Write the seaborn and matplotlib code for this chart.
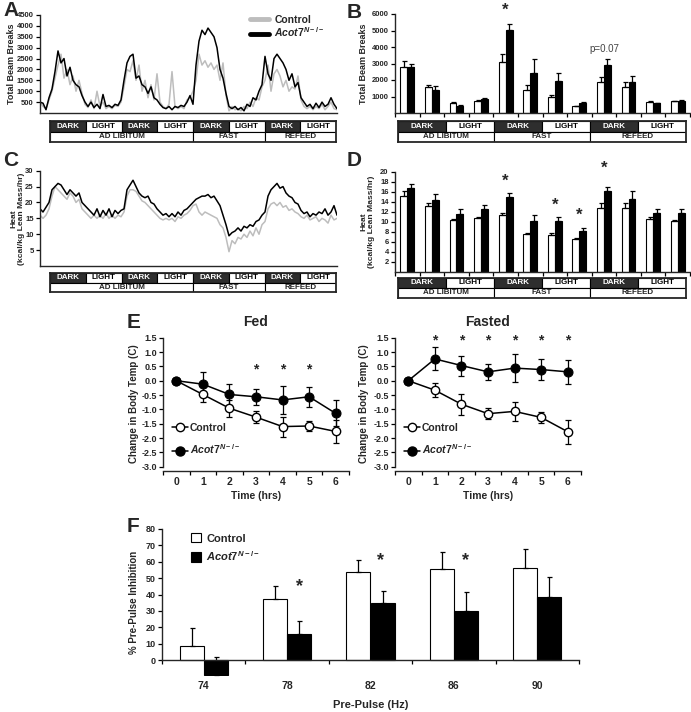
"""Multi-panel activity / heat / body temp / PPI figure (Acot7 KO vs control)."""

import matplotlib
matplotlib.use('Agg')
import matplotlib.pyplot as plt
from matplotlib.lines import Line2D
from matplotlib.patches import Patch
from matplotlib.ticker import FormatStrFormatter
import seaborn as sns
import numpy as np
import pandas as pd


sns.set_theme(style='ticks')
plt.rcParams['font.family'] = ['Liberation Sans', 'DejaVu Sans']
plt.rcParams['font.weight'] = 'bold'
plt.rcParams['axes.labelweight'] = 'bold'
plt.rcParams['axes.unicode_minus'] = False
plt.rcParams['mathtext.fontset'] = 'custom'
plt.rcParams['mathtext.it'] = 'Liberation Sans:italic:bold'
plt.rcParams['mathtext.rm'] = 'Liberation Sans:bold'
plt.rcParams['axes.linewidth'] = 1.0

KO = r'$\mathit{Acot7}^{\mathit{N-/-}}$'

# ---------------------------------------------------------------------------
# Data
# ---------------------------------------------------------------------------
hours = list(range(100))

beam_ctrl = [500, 300, 200, 600, 1000, 1600, 2200, 2700, 1600, 2000,
             1300, 1700, 1000, 1500, 900, 400, 250, 600, 200, 1000,
             300, 500, 200, 300, 200, 350, 300, 500, 1200, 2000,
             1900, 2400, 1500, 2200, 1000, 1500, 700, 1300, 600, 1800,
             500, 300, 200, 400, 1900, 300, 200, 300, 200, 600,
             700, 1000, 1500, 2700, 2200, 2400, 2100, 2300, 2000, 2200,
             1500, 2300, 800, 100, 300, 150, 200, 100, 300, 200,
             500, 300, 700, 600, 1200, 1500, 2200, 1000, 1800, 2000,
             1700, 1200, 1500, 1000, 1200, 1100, 1700, 600, 300, 200,
             300, 150, 300, 200, 400, 150, 300, 500, 200, 150]
beam_ko = [500, 450, 150, 700, 1100, 1900, 2850, 2300, 2500, 1700,
           2100, 1500, 1300, 1200, 800, 500, 300, 500, 250, 400,
           200, 850, 300, 350, 250, 400, 350, 600, 1500, 2300,
           2600, 2700, 1600, 1700, 1300, 1200, 900, 1200, 700, 600,
           400, 250, 200, 300, 150, 300, 250, 350, 300, 500,
           800, 400, 2200, 3300, 3800, 3600, 3900, 3700, 3500, 3000,
           2000, 1600, 900, 300, 200, 300, 150, 250, 100, 400,
           300, 700, 600, 1000, 1300, 2600, 1800, 1500, 2500, 2700,
           2500, 2300, 2000, 1500, 1800, 1200, 1400, 700, 500, 300,
           400, 200, 450, 250, 500, 300, 400, 700, 400, 200]

heat_ctrl = [16, 15, 16, 18, 22, 25, 24, 23, 22, 21,
             23, 22, 20, 21, 18, 17, 16, 15, 16, 15,
             16, 15, 16.5, 15, 16, 15, 16, 15.5, 17, 22,
             24, 24, 23.5, 22, 20.5, 20, 19, 18, 17, 16,
             15, 14.5, 15, 14.5, 15, 14, 15.5, 15, 16, 16.5,
             17.5, 19, 19.5, 17, 16, 17, 16.5, 16, 15.5, 15,
             13, 12, 9, 4.5, 8, 7, 9, 8.5, 10, 9,
             11, 9.5, 12, 10, 13, 14, 18, 19.5, 20, 19,
             20, 18.5, 19, 17.5, 18, 17, 16.5, 15.5, 15, 16,
             14.5, 15, 15.5, 14, 15, 14.5, 13.5, 16, 14.5, 15]
heat_ko = [18, 17, 18.5, 20, 24, 25, 26, 25.5, 24, 22.5,
           24, 23, 22, 23, 20, 19, 18, 17, 16, 18,
           15.5, 17.5, 16, 18, 15.5, 17.5, 16.5, 17.5, 18, 24,
           25.5, 27, 25, 23, 22, 21.5, 22, 20, 19.5, 18,
           17, 16, 16.5, 15.5, 16.5, 15.5, 17, 16, 17.5, 18,
           19, 20, 21, 21.5, 22, 22, 22.5, 21.5, 22, 20.5,
           19, 16, 13, 9.5, 10.5, 11, 12, 11, 12.5, 12,
           13, 12.5, 14, 14.5, 16, 17, 22, 24, 25, 26,
           24.5, 25, 23, 22, 21.5, 20, 19.5, 17.5, 16.5, 17,
           15.5, 16.5, 16, 17, 16.5, 18, 16, 17, 19, 16]

periods = ['AL-D1', 'AL-D2', 'AL-L1', 'AL-L2', 'F-D1', 'F-D2',
           'F-L1', 'F-L2', 'R-D1', 'R-D2', 'R-L1', 'R-L2']
beam_bar_ctrl = [2780, 1600, 600, 750, 3100, 1400, 1000, 400, 1900, 1600, 650, 700]
beam_bar_ctrl_err = [370, 100, 80, 50, 500, 300, 100, 50, 300, 250, 100, 50]
beam_bar_ko = [2780, 1400, 450, 820, 5050, 2400, 1950, 580, 2900, 1900, 600, 720]
beam_bar_ko_err = [220, 250, 30, 60, 350, 850, 500, 70, 350, 350, 30, 40]

heat_bar_ctrl = [15.2, 13.2, 10.4, 10.7, 11.3, 7.5, 7.4, 6.6, 12.7, 12.7, 10.5, 10.1]
heat_bar_ctrl_err = [1.0, 0.5, 0.1, 0.2, 0.5, 0.2, 0.3, 0.1, 1.0, 1.0, 0.5, 0.2]
heat_bar_ko = [16.8, 14.4, 11.6, 12.5, 14.9, 10.2, 10.2, 8.2, 16.2, 14.6, 11.8, 11.8]
heat_bar_ko_err = [0.8, 1.2, 0.9, 0.8, 0.8, 1.2, 0.8, 0.5, 0.8, 1.5, 0.7, 0.7]

phase_names = ['DARK', 'LIGHT']
cond_names = ['AD LIBITUM', 'FAST', 'REFEED']

times = [0, 1, 2, 3, 4, 5, 6]
fed_ctrl = [0, -0.48, -0.96, -1.27, -1.60, -1.58, -1.77]
fed_ctrl_err = [0, 0.25, 0.30, 0.20, 0.35, 0.18, 0.40]
fed_ko = [0, -0.12, -0.48, -0.56, -0.67, -0.56, -1.14]
fed_ko_err = [0, 0.42, 0.35, 0.28, 0.50, 0.34, 0.45]
fasted_ctrl = [0, -0.33, -0.82, -1.15, -1.07, -1.28, -1.78]
fasted_ctrl_err = [0, 0.25, 0.37, 0.20, 0.33, 0.20, 0.42]
fasted_ko = [0, 0.76, 0.53, 0.31, 0.44, 0.39, 0.31]
fasted_ko_err = [0, 0.40, 0.35, 0.27, 0.50, 0.36, 0.43]

pp_levels = ['74', '78', '82', '86', '90']
ppi_ctrl = [8.5, 37.5, 53.5, 55.4, 56.0]
ppi_ctrl_err = [11.0, 8.0, 7.4, 10.7, 11.6]
ppi_ko = [-9.2, 16.0, 34.6, 30.1, 38.7]
ppi_ko_err = [11.0, 8.0, 7.5, 11.2, 11.8]

# ---------------------------------------------------------------------------
# Layout helpers (pixel boxes -> figure fractions)
# ---------------------------------------------------------------------------
W, H = 691, 712


def box(x0, y0, x1, y1):
    return [x0 / W, 1 - y1 / H, (x1 - x0) / W, (y1 - y0) / H]


def style_ticks(ax, fs):
    ax.tick_params(axis='both', which='both', labelsize=fs, width=0.9,
                   color='black', pad=1.5)
    ax.tick_params(axis='both', which='major', length=3)


def draw_strip(ax, cell_width, n_cycles, cond_widths):
    left = 0
    for _ in range(n_cycles):
        for name in phase_names:
            dark = name == 'DARK'
            ax.barh(1.5, cell_width, left=left, height=1,
                    color='#2e2e2e' if dark else 'white',
                    edgecolor='black', linewidth=0.8)
            ax.text(left + cell_width / 2, 1.5, name, ha='center', va='center',
                    fontsize=5.8, color='white' if dark else 'black')
            left += cell_width
    left = 0
    for name, w in zip(cond_names, cond_widths):
        ax.barh(0.5, w, left=left, height=1, color='white',
                edgecolor='black', linewidth=0.8)
        ax.text(left + w / 2, 0.5, name, ha='center', va='center', fontsize=5.8)
        left += w
    ax.set_xlim(0, left)
    ax.set_ylim(0, 2)
    ax.set_xticks([])
    ax.set_yticks([])
    for sp in ax.spines.values():
        sp.set_visible(True)
        sp.set_linewidth(1.3)


def draw_trace(ax, ctrl, ko, ymax, yticks):
    df = pd.DataFrame({'hour': hours * 2, 'value': ctrl + ko,
                       'group': ['Control'] * len(ctrl) + ['KO'] * len(ko)})
    sns.lineplot(data=df, x='hour', y='value', hue='group',
                 palette={'Control': '#bdbdbd', 'KO': 'black'},
                 linewidth=1.1, legend=False, ax=ax)
    ax.set_xlim(0, 99)
    ax.set_ylim(0, ymax)
    ax.set_yticks(yticks)
    ax.set_xticks([])
    ax.set_xlabel('')
    sns.despine(ax=ax)
    style_ticks(ax, 5.5)


def draw_bars(ax, ctrl, ctrl_err, ko, ko_err, ymax, yticks, labels, width=0.56):
    df = pd.DataFrame({'cat': labels * 2, 'value': ctrl + ko,
                       'group': ['Control'] * len(ctrl) + ['KO'] * len(ko)})
    sns.barplot(data=df, x='cat', y='value', hue='group', order=labels,
                hue_order=['Control', 'KO'],
                palette={'Control': 'white', 'KO': 'black'}, saturation=1,
                edgecolor='black', linewidth=0.8, width=width, errorbar=None,
                legend=False, ax=ax)
    for cont, errs in zip(ax.containers, [ctrl_err, ko_err]):
        xs = [b.get_x() + b.get_width() / 2 for b in cont]
        ys = [b.get_y() + b.get_height() for b in cont]
        ax.errorbar(xs, ys, yerr=[np.zeros(len(errs)), errs], fmt='none',
                    ecolor='black', elinewidth=0.9, capsize=1.8, capthick=0.9)
    n = len(labels)
    ax.set_xlim(-0.5, n - 0.5)
    ax.set_ylim(0, ymax)
    ax.set_yticks(yticks)
    ax.set_xticks(np.arange(-0.5, n, 1), minor=True)
    ax.set_xlabel('')
    sns.despine(ax=ax)
    style_ticks(ax, 5.5)
    ax.tick_params(axis='x', which='major', length=0, labelbottom=False)
    ax.tick_params(axis='x', which='minor', length=3)


def draw_temp(ax, ctrl, ctrl_err, ko, ko_err, star_times, star_y, title):
    ax.errorbar(times, ctrl, yerr=ctrl_err, fmt='none', ecolor='black',
                elinewidth=0.9, capsize=2, capthick=0.9, zorder=2)
    ax.errorbar(times, ko, yerr=ko_err, fmt='none', ecolor='black',
                elinewidth=0.9, capsize=2, capthick=0.9, zorder=2)
    sns.lineplot(x=times, y=ctrl, color='black', linewidth=1.1, marker='o',
                 markersize=6, markerfacecolor='white', markeredgecolor='black',
                 markeredgewidth=1.0, ax=ax, zorder=3)
    sns.lineplot(x=times, y=ko, color='black', linewidth=1.1, marker='o',
                 markersize=6.5, markerfacecolor='black',
                 markeredgecolor='black', ax=ax, zorder=3)
    for t in star_times:
        ax.text(t, star_y, '*', ha='center', va='center', fontsize=10)
    ax.set_xlim(-0.5, 6.5)
    ax.set_ylim(-3.15, 1.55)
    ax.set_yticks(np.arange(-3.0, 1.51, 0.5))
    ax.yaxis.set_major_formatter(FormatStrFormatter('%.1f'))
    ax.set_xticks(times)
    ax.set_xticks(np.arange(-0.5, 6.6, 1), minor=True)
    sns.despine(ax=ax)
    ax.spines['left'].set_bounds(-3.0, 1.5)
    style_ticks(ax, 6.5)
    ax.tick_params(axis='x', which='major', length=0, labelsize=7.5, pad=4)
    ax.tick_params(axis='x', which='minor', length=3)
    ax.set_xlabel('Time (hrs)', fontsize=7.5, labelpad=3)
    ax.set_ylabel('Change in Body Temp (C)', fontsize=7)
    ax.text(0.5, 1.106, title, transform=ax.transAxes, ha='center',
            va='center', fontsize=10)
    handles = [Line2D([], [], color='black', lw=1.1, marker='o', ms=6,
                      mfc='white', mec='black'),
               Line2D([], [], color='black', lw=1.1, marker='o', ms=6.5,
                      mfc='black', mec='black')]
    ax.legend(handles, ['Control', KO], loc='lower left',
              bbox_to_anchor=(0.0, 0.04), frameon=False, fontsize=7.5,
              handlelength=1.5, handletextpad=0.2, labelspacing=0.9)


# ---------------------------------------------------------------------------
# Figure
# ---------------------------------------------------------------------------
fig = plt.figure(figsize=(W / 100, H / 100), dpi=100)

# A: beam breaks trace
ax_a = fig.add_axes(box(40, 15, 337, 113))
draw_trace(ax_a, beam_ctrl, beam_ko, 4500, np.arange(500, 4501, 500))
ax_a.set_ylabel('Total Beam Breaks', fontsize=6.5)
ax_a.yaxis.set_label_coords(-0.082, 0.5)
leg_handles = [Line2D([], [], color='#bdbdbd', lw=3.5),
               Line2D([], [], color='black', lw=3.5)]
ax_a.legend(leg_handles, ['Control', KO], loc='upper right',
            bbox_to_anchor=(0.99, 1.1), frameon=False, fontsize=7.5,
            handlelength=1.8, handletextpad=0.5, labelspacing=0.1)
draw_strip(fig.add_axes(box(50, 121, 336, 142)), 1, 4, [4, 2, 2])

# B: beam breaks bars
ax_b = fig.add_axes(box(395, 14, 690, 113))
draw_bars(ax_b, beam_bar_ctrl, beam_bar_ctrl_err, beam_bar_ko, beam_bar_ko_err,
          6000, np.arange(1000, 6001, 1000), periods)
ax_b.set_ylabel('Total Beam Breaks', fontsize=6.5)
ax_b.yaxis.set_label_coords(-0.09, 0.5)
ax_b.text(4, 6250, '*', ha='center', va='center', fontsize=12, clip_on=False)
ax_b.text(8, 3900, 'p=0.07', ha='center', va='center', fontsize=7,
          fontweight='normal', color='#444444')
draw_strip(fig.add_axes(box(398, 121, 686, 142)), 2, 3, [4, 4, 4])

# C: heat trace
ax_c = fig.add_axes(box(40, 170.7, 337, 266))
draw_trace(ax_c, heat_ctrl, heat_ko, 30, np.arange(5, 31, 5))
ax_c.set_ylabel('Heat\n(kcal/kg Lean Mass/hr)', fontsize=6.1)
ax_c.yaxis.set_label_coords(-0.05, 0.5)
draw_strip(fig.add_axes(box(50, 273, 336, 292)), 1, 4, [4, 2, 2])

# D: heat bars
ax_d = fig.add_axes(box(395, 171.7, 690, 271.7))
draw_bars(ax_d, heat_bar_ctrl, heat_bar_ctrl_err, heat_bar_ko, heat_bar_ko_err,
          20, np.arange(2, 21, 2), periods)
ax_d.set_ylabel('Heat\n(kcal/kg Lean Mass/hr)', fontsize=6.1)
ax_d.yaxis.set_label_coords(-0.068, 0.5)
for gx, gy in [(4, 18.1), (6, 13.3), (7, 11.2), (8, 20.7)]:
    ax_d.text(gx, gy, '*', ha='center', va='center', fontsize=12, clip_on=False)
draw_strip(fig.add_axes(box(398, 278, 686, 298)), 2, 3, [4, 4, 4])

# E: body temperature
ax_e1 = fig.add_axes(box(163, 336.3, 349, 471))
draw_temp(ax_e1, fed_ctrl, fed_ctrl_err, fed_ko, fed_ko_err, [3, 4, 5], 0.4, 'Fed')
ax_e1.yaxis.set_label_coords(-0.13, 0.5)
ax_e2 = fig.add_axes(box(395, 336.3, 581, 471))
draw_temp(ax_e2, fasted_ctrl, fasted_ctrl_err, fasted_ko, fasted_ko_err,
          [1, 2, 3, 4, 5, 6], 1.42, 'Fasted')
ax_e2.yaxis.set_label_coords(-0.14, 0.5)

# F: pre-pulse inhibition
ax_f = fig.add_axes(box(162, 529, 579, 676.4))
draw_bars(ax_f, ppi_ctrl, ppi_ctrl_err, ppi_ko, ppi_ko_err, 80,
          np.arange(0, 81, 10), pp_levels, width=0.58)
ax_f.set_ylim(-10, 80)
ax_f.spines['bottom'].set_position(('data', 0))
ax_f.spines['left'].set_bounds(0, 80)
ax_f.tick_params(axis='x', which='major', labelbottom=True, labelsize=7.5, pad=15)
ax_f.tick_params(axis='y', labelsize=6.5)
ax_f.set_xlabel('Pre-Pulse (Hz)', fontsize=8)
ax_f.xaxis.set_label_coords(0.5, -0.16)
ax_f.set_ylabel('% Pre-Pulse Inhibition', fontsize=7)
ax_f.yaxis.set_label_coords(-0.055, 0.5)
for gx, gy in [(1.15, 44.8), (2.12, 61), (3.14, 61)]:
    ax_f.text(gx, gy, '*', ha='center', va='center', fontsize=13)
f_handles = [Patch(facecolor='white', edgecolor='black', linewidth=0.8),
             Patch(facecolor='black', edgecolor='black', linewidth=0.8)]
ax_f.legend(f_handles, ['Control', KO], loc='upper left',
            bbox_to_anchor=(0.045, 1.04), frameon=False, fontsize=8,
            handlelength=0.9, handleheight=0.9, handletextpad=0.5,
            labelspacing=0.5)

# Panel letters
for letter, px, py in [('A', 3, 11), ('B', 347, 12), ('C', 3, 160),
                       ('D', 347, 161), ('E', 127, 323), ('F', 127, 527)]:
    fig.text(px / W, 1 - py / H, letter, fontsize=15, fontweight='bold',
             ha='left', va='center')

plt.savefig('out.png', dpi=100)
